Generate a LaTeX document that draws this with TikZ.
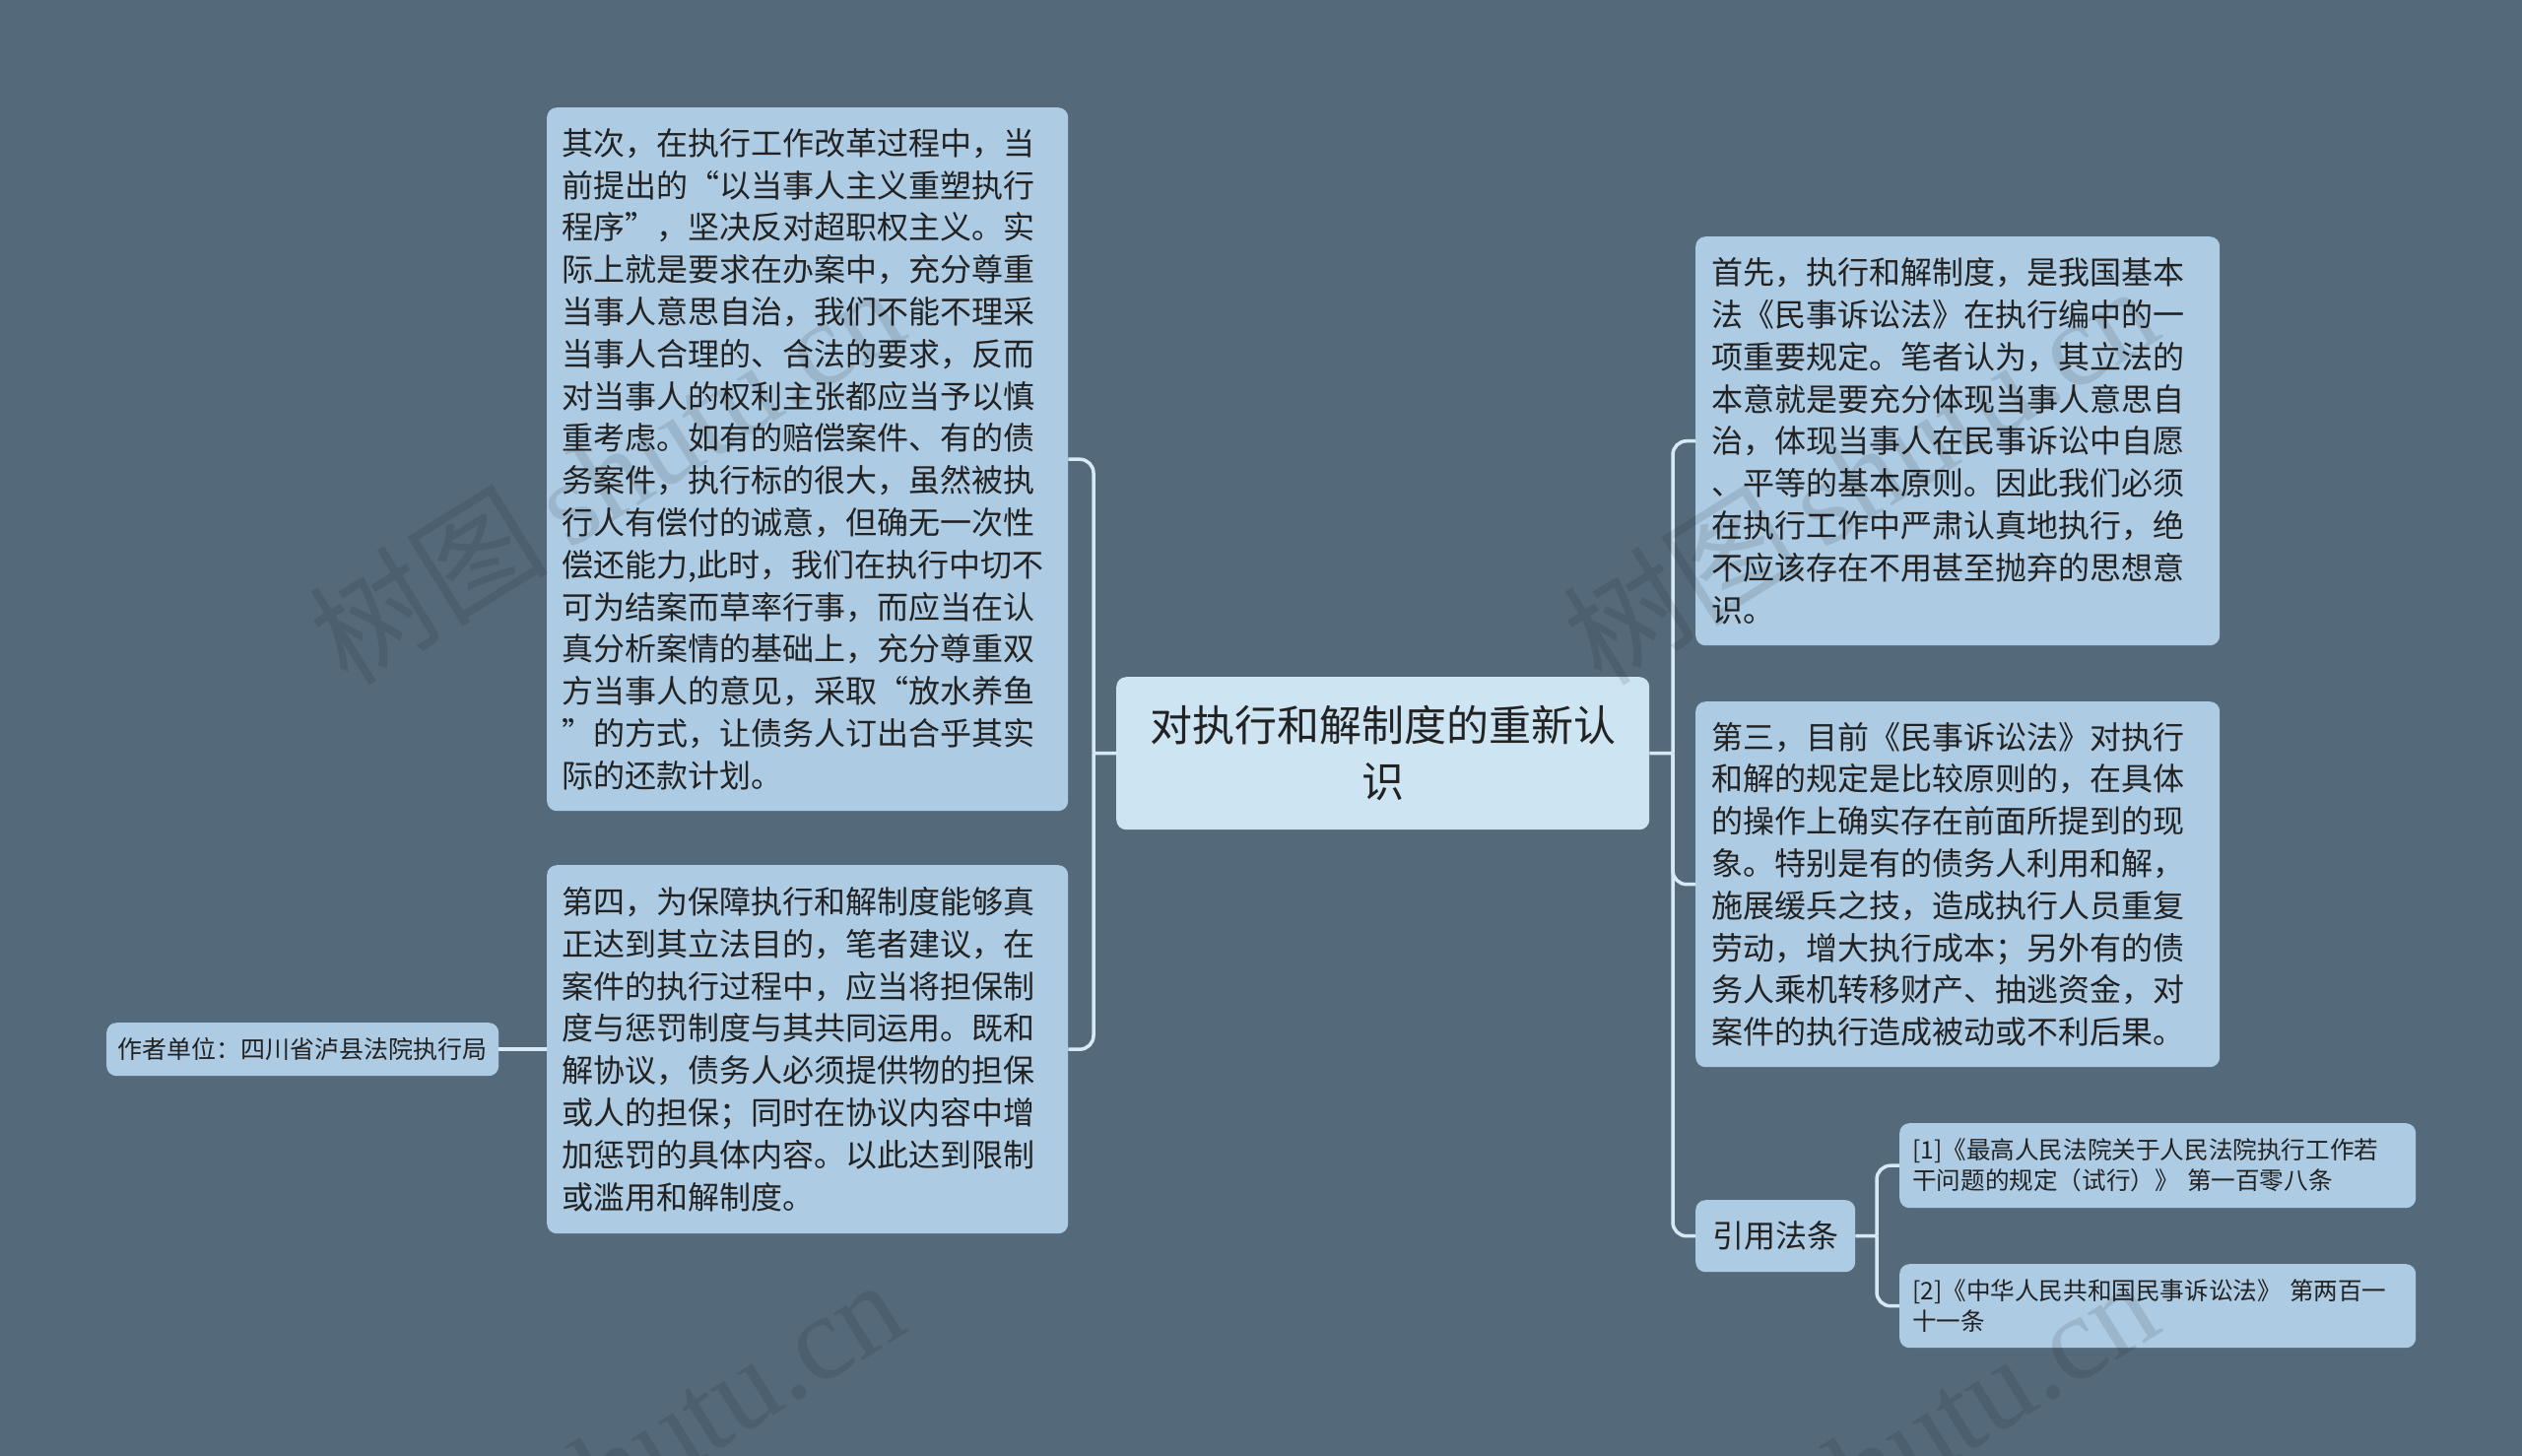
\documentclass[tikz,border=0pt]{standalone}
\usepackage{fontspec}
\newfontfamily\cjk{Noto Sans CJK SC}
\newfontfamily\wmserif{Liberation Serif}
\definecolor{bgc}{HTML}{546A7B}
\definecolor{boxc}{HTML}{ADCBE3}
\definecolor{centc}{HTML}{CDE4F2}
\definecolor{linec}{HTML}{D6EAF6}
\definecolor{txtc}{HTML}{222222}
\begin{document}
\begin{tikzpicture}[x=1pt,y=-1pt,
  tbox/.style={fill=boxc, rounded corners=10pt, anchor=north west, inner xsep=15pt, inner ysep=0pt,
    align=left, text=txtc, font=\cjk\fontsize{32pt}{42.8pt}\selectfont},
  smallbox/.style={tbox, inner xsep=13pt, font=\cjk\fontsize{24.6pt}{31pt}\selectfont},
  conn/.style={draw=linec, line width=3.5pt, rounded corners=14pt},
  wm/.style={anchor=base west, rotate=32, text=black, opacity=0.1, font=\fontsize{122pt}{122pt}\selectfont}]
\fill[bgc] (0,0) rectangle (2560,1478);
\useasboundingbox (0,0) rectangle (2560,1478);

% nodes
\node[tbox, fill=centc, align=center, inner xsep=20pt, text width=501pt, minimum height=155pt,
  font=\cjk\fontsize{43pt}{57pt}\selectfont] (c) at (1133,687) {对执行和解制度的重新认\\识};

\node[tbox, text width=499pt, minimum height=714pt] (b1) at (555,109) {其次，在执行工作改革过程中，当\\
前提出的“以当事人主义重塑执行\\
程序”，坚决反对超职权主义。实\\
际上就是要求在办案中，充分尊重\\
当事人意思自治，我们不能不理采\\
当事人合理的、合法的要求，反而\\
对当事人的权利主张都应当予以慎\\
重考虑。如有的赔偿案件、有的债\\
务案件，执行标的很大，虽然被执\\
行人有偿付的诚意，但确无一次性\\
偿还能力,此时，我们在执行中切不\\
可为结案而草率行事，而应当在认\\
真分析案情的基础上，充分尊重双\\
方当事人的意见，采取“放水养鱼\\
”的方式，让债务人订出合乎其实\\
际的还款计划。};

\node[tbox, text width=499pt, minimum height=374pt] (b2) at (555,878) {第四，为保障执行和解制度能够真\\
正达到其立法目的，笔者建议，在\\
案件的执行过程中，应当将担保制\\
度与惩罚制度与其共同运用。既和\\
解协议，债务人必须提供物的担保\\
或人的担保；同时在协议内容中增\\
加惩罚的具体内容。以此达到限制\\
或滥用和解制度。};

\node[tbox, align=center, inner xsep=11pt, text width=376pt, minimum height=54pt,
  font=\cjk\fontsize{25pt}{30pt}\selectfont] (au) at (108,1038) {作者单位：四川省泸县法院执行局};

\node[tbox, inner xsep=16pt, text width=500pt, minimum height=415pt] (b5) at (1721,240) {首先，执行和解制度，是我国基本\\
法《民事诉讼法》在执行编中的一\\
项重要规定。笔者认为，其立法的\\
本意就是要充分体现当事人意思自\\
治，体现当事人在民事诉讼中自愿\\
、平等的基本原则。因此我们必须\\
在执行工作中严肃认真地执行，绝\\
不应该存在不用甚至抛弃的思想意\\
识。};

\node[tbox, inner xsep=16pt, text width=500pt, minimum height=371pt] (b6) at (1721,712) {第三，目前《民事诉讼法》对执行\\
和解的规定是比较原则的，在具体\\
的操作上确实存在前面所提到的现\\
象。特别是有的债务人利用和解，\\
施展缓兵之技，造成执行人员重复\\
劳动，增大执行成本；另外有的债\\
务人乘机转移财产、抽逃资金，对\\
案件的执行造成被动或不利后果。};

\node[tbox, align=center, inner xsep=15pt, text width=132pt, minimum height=73pt] (b7) at (1721,1218) {引用法条};

\node[smallbox, text width=498pt, minimum height=86pt] (r1) at (1928,1140) {[1]《最高人民法院关于人民法院执行工作若\\
干问题的规定（试行）》 第一百零八条};

\node[smallbox, text width=498pt, minimum height=85pt] (r2) at (1928,1283) {[2]《中华人民共和国民事诉讼法》 第两百一\\
十一条};

% connectors
\coordinate (tl) at (1110,764.5);
\coordinate (tr) at (1698,764.5);
\coordinate (tq) at (1905,1254.5);
\draw[conn] (c.west) -- (tl);
\draw[conn] (tl) |- (b1.east);
\draw[conn] (tl) |- (b2.east);
\draw[conn] (b2.west) -- (au.east);
\draw[conn] (c.east) -- (tr);
\draw[conn] (tr) |- (b5.west);
\draw[conn] (tr) |- (b6.west);
\draw[conn] (tr) |- (b7.west);
\draw[conn] (b7.east) -- (tq);
\draw[conn] (tq) |- (r1.west);
\draw[conn] (tq) |- (r2.west);

% watermarks
\node[wm] (w1) at (350,700) {\cjk 树图\,\wmserif shutu.cn};
\node[wm] (w2) at (350,1709) {\cjk 树图\,\wmserif shutu.cn};
\node[wm] (w3) at (1623,700) {\cjk 树图\,\wmserif shutu.cn};
\node[wm] (w4) at (1623,1709) {\cjk 树图\,\wmserif shutu.cn};
\end{tikzpicture}
\end{document}
